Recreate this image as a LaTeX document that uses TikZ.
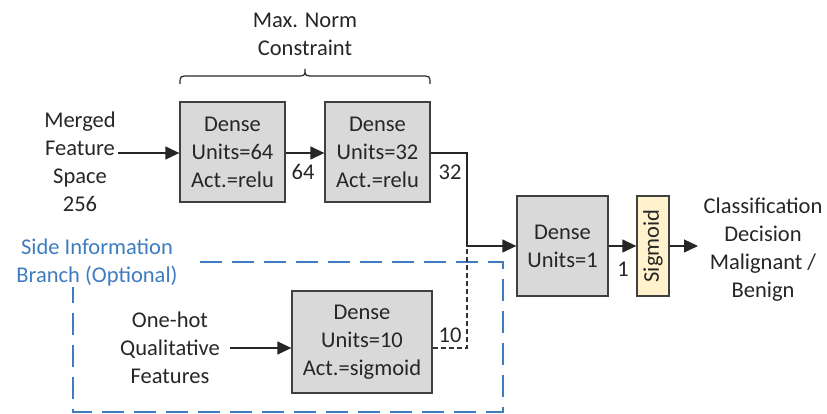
\documentclass[tikz,border=0pt]{standalone}
\usepackage{fontspec}
\setmainfont{Carlito}
\usetikzlibrary{arrows.meta}
\definecolor{boxfill}{HTML}{D9D9D9}
\definecolor{boxline}{HTML}{404040}
\definecolor{sigfill}{HTML}{FFF2CC}
\definecolor{branchblue}{HTML}{3F7CBF}
\begin{document}
\begin{tikzpicture}[x=1pt,y=-1pt,
  txt/.style={font=\fontsize{22.5}{28}\selectfont, text=black!85, align=center, inner sep=0pt},
  layer/.style={txt, draw=boxline, fill=boxfill, line width=1.3pt, minimum width=105pt, minimum height=100pt},
  lbl/.style={font=\fontsize{22.5}{28}\selectfont, text=black!85, inner sep=0pt},
  conn/.style={line width=1.3pt, draw=black!85},
  flow/.style={conn, -{Triangle[length=14pt,width=13pt]}},
  opt/.style={line width=1.2pt, draw=black!80, dash pattern=on 5pt off 3pt},
  branch/.style={line width=1.3pt, draw=branchblue, dash pattern=on 22pt off 10pt}
]
\useasboundingbox (0,0) rectangle (827,414);

% optional side-information frame
\draw[branch] (200,262) -- (503,262) -- (503,412) -- (73,412) -- (73,287);
\node[txt, text=branchblue] (side) at (97,263) {Side Information\\Branch (Optional)};

% layers
\node[layer] (d64) at (232.5,152) {Dense\\Units=64\\Act.=relu};
\node[layer] (d32) at (377.5,152) {Dense\\Units=32\\Act.=relu};
\node[layer, minimum width=91pt] (d1) at (562.5,246) {Dense\\Units=1};
\node[txt, draw=boxline, fill=sigfill, line width=1.3pt, minimum width=100pt, minimum height=32pt, rotate=90] (sig) at (653,246) {Sigmoid};
\node[layer, minimum width=140pt, minimum height=102pt] (d10) at (362,342) {Dense\\Units=10\\Act.=sigmoid};

% inputs and output texts
\node[txt] (merged) at (80,162) {Merged\\Feature\\Space\\256};
\node[txt] (onehot) at (170,348) {One-hot\\Qualitative\\Features};
\node[txt] (decision) at (763,249.5) {Classification\\Decision\\Malignant /\\Benign};
\node[txt] (maxnorm) at (305,34) {Max. Norm\\Constraint};

% brace over the constrained layers
\draw[conn, line width=1.2pt] (180,84) .. controls (180,76) .. (189,76) -- (296,76)
  .. controls (305,76) .. (305,69) .. controls (305,76) .. (314,76) -- (421,76)
  .. controls (430,76) .. (430,84);

% connectors
\coordinate (mergedout) at (118,153);
\coordinate (onehotout) at (230,348);
\coordinate (join) at (467,246);
\coordinate (outend) at (698,246);
\draw[flow] (mergedout) -- (d64.west |- mergedout);
\draw[flow] (d64.east |- mergedout) -- (d32.west |- mergedout);
\draw[conn] (d32.east |- mergedout) -| (join);
\draw[flow] (join) -- (d1.west |- join);
\draw[flow] (d1.east |- join) -- (sig.north |- join);
\draw[flow] (sig.south |- join) -- (outend);
\draw[flow] (onehotout) -- (d10.west |- onehotout);
\draw[opt] (d10.east |- onehotout) -| (join);

% tensor sizes
\node[lbl] (n64) at (303,172) {64};
\node[lbl] (n32) at (450,172) {32};
\node[lbl] (n1) at (623,269) {1};
\node[lbl] (n10) at (450,335) {10};
\end{tikzpicture}
\end{document}
